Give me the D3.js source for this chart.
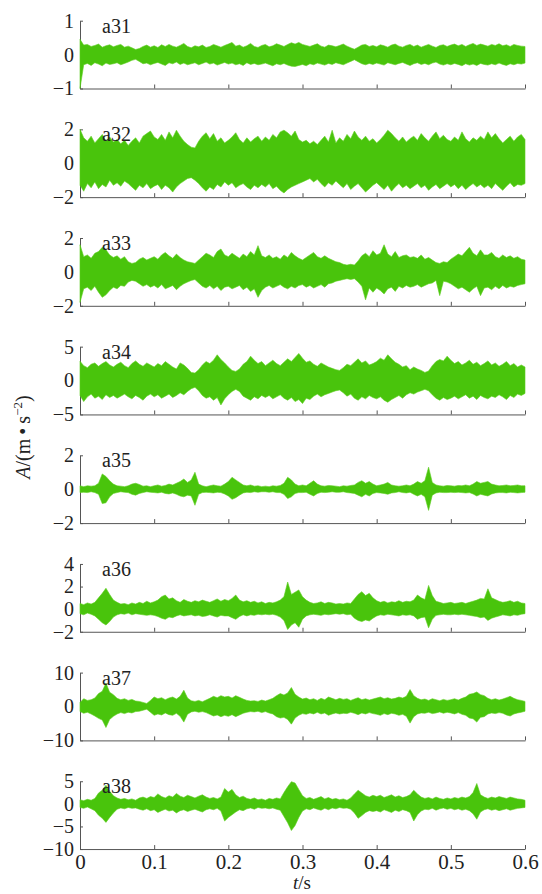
<!DOCTYPE html>
<html>
<head>
<meta charset="utf-8">
<script src="https://cdn.jsdelivr.net/npm/d3@7"></script>
<style>
  html, body { margin: 0; padding: 0; background: #fff; }
  svg { display: block; }
</style>
</head>
<body>
<svg id="chart" width="542" height="894"></svg>
<script>
// Acceleration records of channels a31–a38, 0–0.6 s.
// Each channel is stored as its upper and lower envelope, sampled every 5 ms.
const sampleStep = 0.005;

const channelNames = ["a31", "a32", "a33", "a34", "a35", "a36", "a37", "a38"];
const yDomains = [[-1, 1], [-2, 2], [-2, 2], [-5, 5], [-2, 2], [-2, 4], [-10, 10], [-10, 5]];
const yTickValues = [[-1, 0, 1], [-2, 0, 2], [-2, 0, 2], [-5, 0, 5], [-2, 0, 2], [-2, 0, 2, 4], [-10, 0, 10], [-10, -5, 0, 5]];
const xTickValues = [0, 0.1, 0.2, 0.3, 0.4, 0.5, 0.6];
const xTickLabels = ["0", "0.1", "0.2", "0.3", "0.4", "0.5", "0.6"];

const a31Hi = [0.45,0.28,0.3,0.24,0.27,0.31,0.22,0.26,0.29,0.23, 0.27,0.3,0.22,0.25,0.2,0.15,0.18,0.24,0.28,0.22,
  0.26,0.21,0.29,0.24,0.3,0.25,0.22,0.27,0.33,0.24, 0.2,0.26,0.23,0.28,0.21,0.24,0.3,0.26,0.22,0.27,
  0.31,0.36,0.25,0.28,0.22,0.26,0.33,0.24,0.21,0.27, 0.3,0.23,0.26,0.32,0.28,0.24,0.3,0.35,0.31,0.36,
  0.3,0.27,0.24,0.28,0.32,0.25,0.22,0.28,0.26,0.23, 0.27,0.31,0.25,0.2,0.16,0.22,0.28,0.3,0.24,0.27,
  0.23,0.29,0.26,0.22,0.28,0.31,0.25,0.22,0.27,0.3, 0.24,0.28,0.22,0.26,0.3,0.25,0.21,0.27,0.29,0.24,
  0.28,0.31,0.26,0.3,0.24,0.29,0.33,0.27,0.31,0.28, 0.25,0.3,0.27,0.32,0.26,0.29,0.24,0.3,0.27,0.25, 0.24];
const a31Lo = [-1.0,-0.3,-0.26,-0.32,-0.24,-0.28,-0.33,-0.25,-0.29,-0.27, -0.24,-0.3,-0.26,-0.22,-0.17,-0.14,-0.2,-0.27,-0.25,-0.3,
  -0.26,-0.23,-0.28,-0.32,-0.24,-0.27,-0.22,-0.29,-0.25,-0.3, -0.27,-0.24,-0.3,-0.26,-0.22,-0.28,-0.25,-0.31,-0.27,-0.23,
  -0.28,-0.25,-0.3,-0.27,-0.32,-0.24,-0.29,-0.26,-0.3,-0.28, -0.25,-0.29,-0.33,-0.27,-0.3,-0.26,-0.31,-0.34,-0.35,-0.32,
  -0.29,-0.33,-0.27,-0.3,-0.25,-0.28,-0.31,-0.26,-0.29,-0.24, -0.27,-0.3,-0.25,-0.2,-0.15,-0.21,-0.27,-0.3,-0.26,-0.29,
  -0.25,-0.28,-0.31,-0.24,-0.27,-0.3,-0.26,-0.23,-0.28,-0.32, -0.27,-0.24,-0.29,-0.26,-0.3,-0.25,-0.22,-0.28,-0.31,-0.27,
  -0.3,-0.26,-0.29,-0.33,-0.27,-0.31,-0.28,-0.32,-0.26,-0.29, -0.31,-0.27,-0.3,-0.25,-0.29,-0.32,-0.27,-0.3,-0.26,-0.28, -0.25];

const a32Hi = [2.0,1.5,1.3,1.6,1.2,1.45,1.7,1.3,1.55,1.25, 1.4,1.15,1.35,1.05,1.3,1.5,1.2,1.6,1.75,1.9,
  1.55,1.4,1.7,1.35,1.85,1.5,1.95,1.6,1.3,1.1, 0.95,0.9,1.3,1.6,1.8,1.45,1.75,1.3,1.5,1.2,
  1.35,1.55,1.8,1.4,1.2,1.5,1.25,1.45,1.6,1.3, 1.55,1.35,1.7,1.5,1.85,1.95,1.8,1.6,1.9,1.4,
  1.25,1.35,1.15,1.3,1.1,1.35,1.6,1.25,1.95,1.2, 1.5,1.3,1.7,1.45,1.9,1.55,1.35,1.6,1.3,1.45,
  1.2,1.4,1.65,1.95,1.75,1.5,1.3,1.55,1.25,1.45, 1.6,1.35,1.75,1.5,1.3,1.6,1.85,1.45,1.65,1.4,
  1.3,1.55,1.35,1.85,1.45,1.25,1.5,1.35,1.6,1.4, 1.85,1.5,1.75,1.45,1.2,1.4,1.6,1.3,1.55,1.7, 1.4];
const a32Lo = [-1.3,-1.65,-1.2,-1.45,-1.1,-1.5,-1.25,-1.4,-1.0,-1.3, -1.15,-1.35,-1.05,-1.2,-1.4,-1.6,-1.3,-1.45,-1.2,-1.5,
  -1.35,-1.25,-1.55,-1.3,-1.45,-1.7,-1.4,-1.2,-1.05,-0.9, -0.85,-1.0,-1.2,-1.45,-1.65,-1.4,-1.55,-1.25,-1.4,-1.1,
  -1.3,-1.15,-1.45,-1.3,-1.2,-1.4,-1.55,-1.3,-1.45,-1.25, -1.4,-1.2,-1.5,-1.35,-1.6,-1.75,-1.55,-1.4,-1.3,-1.2,
  -1.1,-1.0,-0.9,-1.1,-0.95,-1.2,-1.4,-1.15,-1.3,-1.05, -1.25,-1.45,-1.2,-1.55,-1.35,-1.2,-1.45,-1.7,-1.5,-1.3,
  -1.15,-1.35,-1.55,-1.3,-1.65,-1.4,-1.2,-1.45,-1.3,-1.5, -1.35,-1.2,-1.45,-1.3,-1.6,-1.4,-1.25,-1.5,-1.35,-1.2,
  -1.4,-1.25,-1.5,-1.3,-1.55,-1.35,-1.2,-1.4,-1.25,-1.45, -1.3,-1.5,-1.2,-1.4,-1.6,-1.35,-1.15,-1.4,-1.25,-1.3, -1.2];

const a33Hi = [1.6,0.9,1.0,0.8,1.1,1.2,1.45,1.3,1.0,0.85, 0.95,0.75,0.9,0.6,0.5,0.55,0.75,0.85,0.7,0.8,
  0.9,0.75,1.0,1.15,0.95,0.8,1.05,0.85,0.7,0.6, 0.55,0.5,0.7,0.9,1.1,1.0,0.85,1.2,1.35,1.0,
  0.9,1.1,0.95,0.8,1.05,0.9,1.2,1.0,1.55,0.95, 0.85,1.0,0.8,0.9,0.75,1.0,0.85,1.15,0.95,0.8,
  0.7,0.85,1.0,1.15,0.9,0.8,0.95,0.8,0.7,0.6, 0.55,0.45,0.4,0.45,0.4,0.65,0.95,1.1,0.9,1.25,
  1.0,1.1,1.6,1.05,0.9,1.2,0.85,0.95,1.0,0.85, 0.9,0.8,1.0,0.75,0.85,0.7,0.55,0.5,0.6,0.55,
  0.75,0.9,1.05,0.95,1.2,1.45,1.1,0.95,1.3,1.0, 1.0,1.15,0.9,0.8,1.0,0.85,0.95,0.8,0.9,0.75, 0.7];
const a33Lo = [-1.8,-1.0,-0.9,-1.1,-0.85,-1.2,-1.5,-1.35,-1.1,-0.9, -1.0,-0.8,-0.85,-0.6,-0.5,-0.55,-0.7,-0.85,-0.75,-0.9,
  -0.8,-0.95,-0.75,-1.0,-0.9,-0.8,-1.05,-0.85,-0.7,-0.6, -0.5,-0.45,-0.65,-0.85,-0.95,-0.8,-1.0,-0.85,-1.1,-0.9,
  -0.85,-1.0,-0.9,-0.8,-1.05,-0.9,-1.15,-1.0,-1.5,-1.1, -0.9,-0.8,-0.95,-0.85,-0.75,-0.9,-1.0,-0.85,-0.95,-0.8,
  -0.75,-0.9,-0.8,-0.95,-0.85,-0.75,-0.9,-0.7,-0.65,-0.55, -0.5,-0.45,-0.4,-0.45,-0.4,-0.6,-0.85,-1.65,-0.95,-1.2,
  -0.95,-1.1,-1.3,-1.0,-0.9,-1.15,-0.85,-0.95,-0.8,-0.9, -0.85,-0.75,-0.9,-0.8,-0.7,-0.65,-0.5,-1.4,-0.55,-0.6,
  -0.7,-0.85,-1.0,-0.9,-1.05,-1.2,-1.0,-0.85,-1.4,-0.95, -0.9,-1.05,-0.85,-1.0,-0.8,-0.95,-0.85,-0.9,-0.8,-0.75, -0.7];

const a34Hi = [2.85,2.2,1.9,2.4,2.6,2.1,2.5,2.8,2.3,2.0, 2.4,2.7,2.2,1.9,2.5,2.9,2.4,2.1,2.6,2.3,
  2.0,2.5,2.2,2.8,2.4,2.0,1.7,2.6,2.3,1.8, 1.2,1.1,1.6,2.3,2.8,2.5,3.0,3.8,3.1,2.6,
  2.0,1.5,1.35,1.7,2.4,2.8,3.6,3.0,2.5,2.8, 2.2,2.6,3.0,2.5,2.2,2.7,3.2,2.8,3.4,4.0,
  3.3,2.7,2.9,2.4,2.1,2.6,2.3,2.0,1.8,1.6, 1.5,1.9,2.4,2.2,2.7,3.2,2.6,2.9,2.3,2.5,
  2.8,3.3,3.0,3.8,3.2,2.7,2.4,2.0,2.2,1.6, 2.0,1.7,1.5,1.2,1.4,2.2,2.8,3.1,2.9,3.6,
  3.0,2.5,2.8,2.3,2.6,3.0,2.4,2.7,2.2,2.5, 2.9,2.3,2.6,2.1,2.4,2.8,2.2,2.5,2.0,2.3, 2.0];
const a34Lo = [-2.2,-3.1,-2.4,-2.0,-2.6,-2.3,-2.8,-2.1,-2.5,-2.2, -2.6,-2.3,-2.0,-2.4,-2.7,-2.2,-2.5,-2.9,-2.3,-2.0,
  -2.4,-2.1,-2.6,-2.3,-2.0,-2.5,-2.2,-1.8,-2.1,-1.6, -1.2,-1.0,-1.5,-2.2,-2.6,-2.4,-2.9,-2.5,-3.6,-2.7,
  -2.1,-1.6,-1.3,-1.6,-2.3,-2.6,-2.9,-2.4,-2.7,-2.2, -2.5,-2.2,-2.7,-2.4,-2.1,-2.6,-2.9,-2.5,-3.1,-2.8,
  -3.4,-2.6,-2.8,-2.3,-2.0,-2.4,-2.1,-1.9,-1.7,-1.5, -1.4,-1.8,-2.3,-2.0,-2.6,-2.9,-2.4,-2.7,-2.2,-2.5,
  -2.7,-2.4,-2.9,-3.2,-2.8,-2.5,-2.2,-2.6,-2.1,-1.8, -2.0,-1.7,-1.5,-1.3,-1.5,-2.1,-2.6,-2.9,-2.5,-2.8,
  -2.6,-2.3,-2.7,-2.4,-2.1,-2.6,-2.3,-2.8,-2.2,-2.5, -2.7,-2.3,-2.5,-2.1,-2.4,-2.8,-2.2,-2.5,-2.0,-2.2, -1.9];

const a35Hi = [0.2,0.15,0.2,0.18,0.2,0.35,0.9,0.75,0.5,0.3, 0.2,0.18,0.15,0.2,0.3,0.35,0.28,0.18,0.2,0.15,
  0.2,0.25,0.18,0.22,0.3,0.25,0.35,0.45,0.6,0.4, 0.55,1.0,0.3,0.2,0.15,0.2,0.25,0.2,0.18,0.3,
  0.45,0.7,0.55,0.4,0.25,0.2,0.25,0.18,0.2,0.15, 0.18,0.15,0.2,0.18,0.22,0.35,0.7,0.55,0.3,0.2,
  0.25,0.2,0.35,0.5,0.3,0.2,0.18,0.22,0.2,0.18, 0.15,0.2,0.18,0.22,0.25,0.4,0.5,0.35,0.45,0.3,
  0.2,0.25,0.3,0.4,0.25,0.2,0.18,0.2,0.25,0.2, 0.3,0.45,0.35,0.5,1.3,0.4,0.25,0.2,0.18,0.22,
  0.2,0.18,0.22,0.2,0.25,0.2,0.3,0.45,0.35,0.4, 0.45,0.3,0.25,0.2,0.22,0.25,0.2,0.22,0.25,0.2, 0.2];
const a35Lo = [-0.2,-0.18,-0.2,-0.15,-0.2,-0.3,-0.85,-0.8,-0.45,-0.25, -0.2,-0.15,-0.18,-0.2,-0.3,-0.35,-0.25,-0.2,-0.15,-0.18,
  -0.2,-0.22,-0.18,-0.25,-0.28,-0.22,-0.3,-0.4,-0.45,-0.35, -0.4,-0.95,-0.3,-0.2,-0.18,-0.2,-0.22,-0.18,-0.2,-0.28,
  -0.4,-0.6,-0.5,-0.35,-0.22,-0.18,-0.2,-0.15,-0.18,-0.15, -0.15,-0.18,-0.15,-0.2,-0.2,-0.3,-0.55,-0.45,-0.25,-0.2,
  -0.2,-0.18,-0.3,-0.4,-0.25,-0.18,-0.2,-0.18,-0.15,-0.18, -0.18,-0.15,-0.2,-0.22,-0.25,-0.35,-0.45,-0.3,-0.4,-0.25,
  -0.2,-0.22,-0.25,-0.3,-0.22,-0.2,-0.15,-0.2,-0.22,-0.18, -0.3,-0.4,-0.3,-0.45,-1.25,-0.35,-0.22,-0.18,-0.2,-0.2,
  -0.18,-0.2,-0.18,-0.2,-0.22,-0.2,-0.28,-0.4,-0.3,-0.35, -0.4,-0.28,-0.22,-0.2,-0.2,-0.22,-0.18,-0.2,-0.22,-0.2, -0.18];

const a36Hi = [0.5,0.4,0.55,0.45,0.6,1.0,1.4,1.85,1.3,0.8, 0.6,0.45,0.5,0.4,0.55,0.45,0.6,0.5,0.7,0.55,
  0.65,0.8,1.1,1.25,0.9,1.0,0.75,0.6,0.85,0.7, 0.6,0.75,0.65,0.8,0.7,0.6,0.75,0.9,0.7,0.85,
  0.75,0.95,1.25,0.8,0.65,0.75,0.6,0.7,0.55,0.65, 0.5,0.6,0.55,0.65,0.8,1.1,2.4,1.3,1.5,1.7,
  1.1,0.8,0.6,0.5,0.55,0.65,0.5,0.6,0.55,0.45, 0.5,0.45,0.55,0.5,0.9,1.3,1.55,1.2,1.4,1.0,
  0.75,0.6,0.7,0.55,0.65,0.6,0.75,0.6,0.7,0.65, 0.8,1.25,1.0,0.85,2.1,1.2,0.7,0.6,0.5,0.55,
  0.6,0.5,0.55,0.6,0.5,0.6,0.7,0.8,0.95,0.9, 1.8,1.0,0.85,0.7,0.6,0.65,0.75,0.6,0.7,0.55, 0.5];
const a36Lo = [-0.4,-0.5,-0.35,-0.45,-0.6,-0.9,-1.2,-1.4,-1.1,-0.7, -0.5,-0.4,-0.45,-0.35,-0.5,-0.4,-0.45,-0.5,-0.55,-0.5,
  -0.55,-0.65,-0.8,-0.9,-0.7,-0.75,-0.6,-0.5,-0.6,-0.55, -0.5,-0.6,-0.55,-0.65,-0.6,-0.5,-0.6,-0.7,-0.55,-0.6,
  -0.6,-0.75,-0.9,-0.65,-0.5,-0.6,-0.5,-0.55,-0.45,-0.5, -0.45,-0.5,-0.45,-0.55,-0.7,-1.0,-1.8,-1.4,-1.2,-1.6,
  -0.9,-0.6,-0.5,-0.45,-0.5,-0.55,-0.45,-0.5,-0.45,-0.4, -0.45,-0.4,-0.5,-0.45,-0.8,-1.0,-1.1,-0.95,-1.05,-0.8,
  -0.6,-0.5,-0.55,-0.45,-0.5,-0.55,-0.6,-0.5,-0.55,-0.5, -0.6,-0.9,-0.75,-0.7,-1.65,-0.9,-0.55,-0.5,-0.45,-0.5,
  -0.5,-0.45,-0.5,-0.45,-0.5,-0.55,-0.6,-0.65,-0.75,-0.7, -1.0,-0.8,-0.7,-0.6,-0.5,-0.55,-0.6,-0.5,-0.55,-0.45, -0.4];

const a37Hi = [1.2,2.3,1.8,2.0,2.5,3.8,4.5,6.9,4.2,3.5, 2.4,2.0,2.3,1.8,2.1,1.6,1.5,1.2,0.9,1.8,
  2.8,2.3,2.6,2.0,2.5,2.8,2.2,3.0,4.8,2.5, 1.7,1.5,1.8,1.4,1.9,2.4,3.0,2.6,3.2,2.8,
  3.0,2.5,3.2,2.7,2.2,1.8,1.6,1.7,1.5,1.9, 1.6,2.0,2.4,3.2,3.8,3.4,4.0,5.6,3.6,2.8,
  2.2,2.5,2.0,2.3,1.8,2.4,2.0,2.8,2.4,2.0, 2.4,2.1,2.3,1.8,2.2,2.6,2.0,2.3,1.9,2.2,
  2.5,2.8,2.3,2.6,2.2,2.4,2.8,2.5,3.0,5.0, 3.2,2.4,2.0,2.2,1.8,2.3,2.0,1.7,2.1,1.8,
  2.0,2.3,1.9,2.4,2.8,3.6,3.8,4.3,3.5,3.2, 2.4,2.0,2.3,1.9,2.2,2.6,3.0,2.4,2.0,1.8, 1.5];
const a37Lo = [-1.5,-2.0,-1.7,-2.2,-2.8,-3.5,-4.0,-6.2,-3.8,-2.9, -2.2,-1.8,-2.1,-1.7,-1.9,-1.5,-1.4,-1.1,-0.8,-1.7,
  -2.6,-2.2,-2.5,-1.9,-2.4,-2.6,-2.0,-2.9,-4.6,-2.3, -1.6,-1.4,-1.7,-1.5,-1.8,-2.3,-2.8,-2.5,-3.0,-2.6,
  -2.9,-2.4,-3.0,-2.5,-2.0,-1.7,-1.5,-1.6,-1.4,-1.8, -1.5,-1.9,-2.2,-3.0,-3.4,-3.2,-3.8,-5.2,-3.4,-2.6,
  -2.1,-2.3,-1.9,-2.2,-1.7,-2.2,-1.9,-2.6,-2.2,-1.9, -2.2,-2.0,-2.1,-1.7,-2.0,-2.4,-1.9,-2.2,-1.8,-2.1,
  -2.3,-2.6,-2.1,-2.4,-2.0,-2.2,-2.6,-2.3,-2.9,-4.9, -3.0,-2.2,-1.9,-2.0,-1.7,-2.1,-1.9,-1.6,-2.0,-1.7,
  -1.9,-2.2,-1.8,-2.3,-2.6,-3.4,-3.6,-4.6,-3.2,-3.0, -2.2,-1.9,-2.1,-1.8,-2.0,-2.5,-2.8,-2.2,-1.9,-1.7, -1.4];

const a38Hi = [0.9,0.7,1.0,0.8,1.2,2.4,3.0,4.1,2.8,1.8, 1.3,1.0,1.2,0.9,1.1,0.8,1.3,1.5,1.2,1.6,
  1.4,2.2,1.6,1.3,1.8,1.5,2.3,1.7,1.4,1.9, 1.6,1.3,1.7,2.0,1.5,1.2,1.4,1.1,1.5,3.4,
  2.6,3.2,2.0,1.4,1.7,1.2,1.0,1.3,0.9,1.1, 0.8,1.2,1.0,1.3,1.1,2.5,3.8,4.9,4.6,3.2,
  1.8,1.2,1.4,1.0,1.3,1.6,1.1,1.4,1.0,1.2, 0.9,1.1,0.8,1.3,2.2,3.0,2.4,1.8,1.5,1.9,
  1.6,1.9,1.4,1.7,2.0,1.5,1.8,1.4,1.6,2.0, 3.0,2.2,1.5,1.2,1.4,1.1,1.5,1.2,1.0,1.3,
  1.1,1.4,1.2,1.5,1.3,1.6,2.5,4.5,2.0,1.5, 1.2,1.5,1.3,1.6,1.4,1.2,1.5,1.3,1.1,1.0, 0.8];
const a38Lo = [-0.8,-1.0,-0.7,-1.1,-1.5,-2.5,-3.2,-4.1,-3.0,-2.0, -1.2,-0.9,-1.1,-0.8,-1.0,-0.9,-1.2,-1.4,-1.1,-1.5,
  -1.3,-1.9,-1.5,-1.2,-1.6,-1.4,-2.0,-1.5,-1.3,-1.7, -1.4,-1.2,-1.5,-1.8,-1.3,-1.1,-1.3,-1.0,-1.6,-3.8,
  -3.0,-2.4,-1.8,-1.3,-1.5,-1.1,-0.9,-1.2,-0.8,-1.0, -0.9,-1.1,-0.9,-1.2,-1.4,-2.8,-4.2,-5.9,-4.8,-3.0,
  -1.6,-1.1,-1.3,-0.9,-1.2,-1.4,-1.0,-1.3,-0.9,-1.1, -0.8,-1.0,-0.9,-1.2,-2.0,-3.2,-2.6,-1.9,-1.5,-1.7,
  -1.5,-1.8,-1.3,-1.6,-1.9,-1.4,-1.7,-1.3,-1.5,-1.9, -3.8,-2.4,-1.6,-1.2,-1.3,-1.0,-1.4,-1.1,-0.9,-1.2,
  -1.0,-1.3,-1.1,-1.4,-1.2,-1.5,-2.2,-3.4,-1.8,-1.3, -1.1,-1.4,-1.2,-1.5,-1.3,-1.1,-1.4,-1.2,-1.0,-0.9, -0.8];

const upperEnvelopes = [a31Hi, a32Hi, a33Hi, a34Hi, a35Hi, a36Hi, a37Hi, a38Hi];
const lowerEnvelopes = [a31Lo, a32Lo, a33Lo, a34Lo, a35Lo, a36Lo, a37Lo, a38Lo];

// Layout
const plotLeft = 80, plotRight = 525;
const firstTop = 20.7, panelHeight = 67.8, panelPitch = 108.65;
const signalColor = "#49c40c";
const axisColor = "#555";
const textColor = "#222";
const serif = "Liberation Serif, Times New Roman, Times, Noto Serif, DejaVu Serif, serif";

const svg = d3.select("#chart");
const x = d3.scaleLinear().domain([0, 0.6]).range([plotLeft, plotRight]);

channelNames.forEach((name, k) => {
  const top = firstTop + k * panelPitch;
  const bottom = top + panelHeight;
  const y = d3.scaleLinear().domain(yDomains[k]).range([bottom, top]);
  const g = svg.append("g").attr("class", "panel");
  const isLast = k === channelNames.length - 1;

  // Left axis with inward ticks
  const left = g.append("g")
    .attr("transform", `translate(${plotLeft},0)`)
    .call(d3.axisLeft(y).tickValues(yTickValues[k]).tickSizeInner(-3).tickSizeOuter(0).tickPadding(6)
      .tickFormat(d3.format("d")));
  left.attr("font-family", serif).attr("font-size", 20);
  left.select(".domain").attr("stroke", axisColor);
  left.selectAll(".tick line").attr("stroke", axisColor);
  left.selectAll(".tick text").style("font-family", serif).style("font-size", "20px").attr("fill", textColor);

  // Bottom axis with inward ticks; labels only on the lowest panel
  const bottomAxis = g.append("g")
    .attr("transform", `translate(0,${bottom})`)
    .call(d3.axisBottom(x).tickValues(xTickValues).tickSizeInner(-4).tickSizeOuter(0).tickPadding(5)
      .tickFormat((d, i) => isLast ? xTickLabels[i] : ""));
  bottomAxis.attr("font-family", serif).attr("font-size", 21);
  bottomAxis.select(".domain").attr("stroke", axisColor);
  bottomAxis.selectAll(".tick line").attr("stroke", axisColor);
  bottomAxis.selectAll(".tick text").style("font-family", serif).style("font-size", "21px").attr("fill", textColor);

  // Signal band between the lower and upper envelopes
  const hi = upperEnvelopes[k], lo = lowerEnvelopes[k];
  const band = d3.area()
    .x((d, i) => x(i * sampleStep))
    .y0((d, i) => y(lo[i]))
    .y1((d, i) => y(hi[i]));
  g.append("path")
    .datum(hi)
    .attr("d", band)
    .attr("fill", signalColor)
    .attr("stroke", "#5ccf1e")
    .attr("stroke-width", 0.6);

  // Channel label
  g.append("text")
    .attr("x", 102).attr("y", top + 12)
    .style("font-family", serif).style("font-size", "20px").attr("fill", textColor)
    .text(name);
});

// Axis titles
svg.append("text")
  .attr("x", 302).attr("y", 889)
  .attr("text-anchor", "middle")
  .style("font-family", serif).style("font-size", "19px").attr("fill", textColor)
  .call(t => {
    t.append("tspan").attr("font-style", "italic").text("t");
    t.append("tspan").text("/s");
  });

svg.append("text")
  .attr("transform", "translate(30,437) rotate(-90)")
  .attr("text-anchor", "middle")
  .style("font-family", serif).style("font-size", "20px").attr("fill", textColor)
  .call(t => {
    t.append("tspan").attr("font-style", "italic").text("A");
    t.append("tspan").text("/(m\u2009\u2022\u2009s");
    t.append("tspan").style("font-size", "13px").attr("dy", -8).text("\u22122");
    t.append("tspan").attr("dy", 8).text(")");
  });
</script>
</body>
</html>
